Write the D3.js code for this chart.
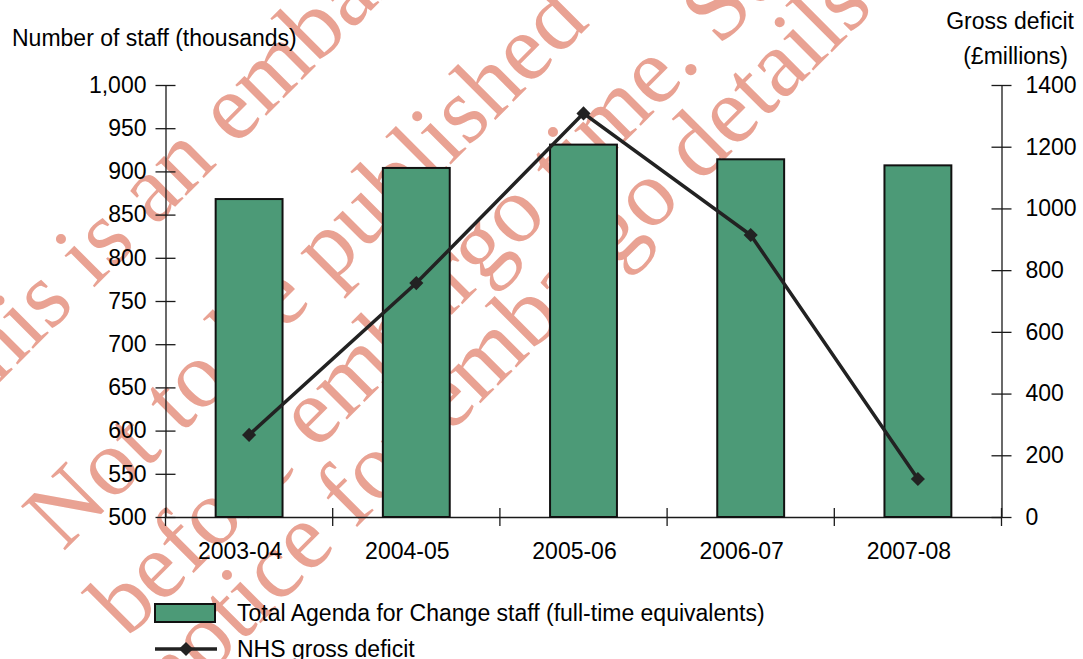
<!DOCTYPE html>
<html>
<head>
<meta charset="utf-8">
<script src="https://cdn.jsdelivr.net/npm/d3@7"></script>
<style>
  body { margin: 0; background: #fff; }
  svg { display: block; font-family: "Liberation Sans", Arial, sans-serif; }
  .axis path, .axis line { stroke: #1a1a1a; stroke-width: 1.3; }
  .axis text { font-size: 23px; fill: #000; font-family: "Liberation Sans", Arial, sans-serif; }
</style>
</head>
<body>
<svg width="1083" height="659"></svg>
<script>
// chart data
var years = ["2003-04", "2004-05", "2005-06", "2006-07", "2007-08"];
var staff = [868, 904, 931, 914, 907];          // thousands, left axis
var deficit = [266, 758, 1308, 914, 123];       // £ millions, right axis
var staffTicks = [500, 550, 600, 650, 700, 750, 800, 850, 900, 950, 1000];
var deficitTicks = [0, 200, 400, 600, 800, 1000, 1200, 1400];
var watermarkLines = ["This is an embargoed report.", "Not to be published", "before embargo time. See", "notice for embargo details"];

var svg = d3.select("svg");
var plotLeft = 165.5, plotRight = 1001.5, plotTop = 85, plotBottom = 517;

// watermark sits behind everything (rotated frame: x along the text, y across it)
var wmStart = [-331, -346, -362, -380];
var wmBaselines = [270, 435, 542, 625];
var wm = svg.append("g")
    .attr("transform", "rotate(-45)")
    .attr("fill", "#e9a293")
    .style("font-family", "'Liberation Serif', 'Times New Roman', serif")
    .style("font-size", "95px");
wm.selectAll("text")
    .data(watermarkLines)
    .enter().append("text")
    .attr("x", function (d, i) { return wmStart[i]; })
    .attr("y", function (d, i) { return wmBaselines[i]; })
    .text(function (d) { return d; });

var x = d3.scaleBand().domain(years).range([plotLeft, plotRight]).paddingInner(0.6).paddingOuter(0.3);
var y = d3.scaleLinear().domain([500, 1000]).range([plotBottom, plotTop]);
var y2 = d3.scaleLinear().domain([0, 1400]).range([plotBottom, plotTop]);

// left axis, ticks crossing the line
var gy = svg.append("g")
    .attr("class", "axis")
    .attr("transform", "translate(" + plotLeft + ",0)")
    .call(d3.axisLeft(y).tickValues(staffTicks).tickFormat(d3.format(",")).tickSize(10).tickPadding(9).tickSizeOuter(0));
gy.selectAll(".tick line").attr("x1", 10);

// right axis
var gy2 = svg.append("g")
    .attr("class", "axis")
    .attr("transform", "translate(" + plotRight + ",0)")
    .call(d3.axisRight(y2).tickValues(deficitTicks).tickFormat(d3.format("d")).tickSize(10).tickPadding(14).tickSizeOuter(0));
gy2.selectAll(".tick line").attr("x1", -10);

// bottom axis: labels under bars, tick marks at the category edges
var gx = svg.append("g")
    .attr("class", "axis")
    .attr("transform", "translate(0," + plotBottom + ")")
    .call(d3.axisBottom(x).tickSize(0).tickPadding(26).tickSizeOuter(0));
gx.selectAll(".tick text").attr("dx", -9);
var edges = d3.range(years.length + 1).map(function (i) { return plotLeft + i * x.step(); });
gx.selectAll(".edge")
    .data(edges)
    .enter().append("line")
    .attr("class", "edge")
    .attr("x1", function (d) { return d; })
    .attr("x2", function (d) { return d; })
    .attr("y1", -9)
    .attr("y2", 9);

// bars
svg.selectAll(".bar")
    .data(years)
    .enter().append("rect")
    .attr("class", "bar")
    .attr("x", function (d) { return x(d); })
    .attr("y", function (d, i) { return y(staff[i]); })
    .attr("width", x.bandwidth())
    .attr("height", function (d, i) { return plotBottom - y(staff[i]); })
    .attr("fill", "#4c9a77")
    .attr("stroke", "#111")
    .attr("stroke-width", 2);

// deficit line
var line = d3.line()
    .x(function (d, i) { return x(years[i]) + x.bandwidth() / 2; })
    .y(function (d) { return y2(d); });

svg.append("path")
    .datum(deficit)
    .attr("d", line)
    .attr("fill", "none")
    .attr("stroke", "#222")
    .attr("stroke-width", 3.5);

var diamond = d3.symbol().type(d3.symbolSquare).size(100);
svg.selectAll(".marker")
    .data(deficit)
    .enter().append("path")
    .attr("class", "marker")
    .attr("d", diamond)
    .attr("fill", "#222")
    .attr("transform", function (d, i) {
        return "translate(" + (x(years[i]) + x.bandwidth() / 2) + "," + y2(d) + ") rotate(45)";
    });

// axis titles
svg.append("text").attr("x", 12).attr("y", 46).style("font-size", "23px").text("Number of staff (thousands)");
svg.append("text").attr("x", 1074).attr("y", 29).attr("text-anchor", "end").style("font-size", "23px").text("Gross deficit");
svg.append("text").attr("x", 1068).attr("y", 64).attr("text-anchor", "end").style("font-size", "23px").text("(£millions)");

// legend
var lg = svg.append("g");
lg.append("rect").attr("x", 155).attr("y", 604).attr("width", 60).attr("height", 18)
    .attr("fill", "#4c9a77").attr("stroke", "#111").attr("stroke-width", 2);
lg.append("text").attr("x", 237).attr("y", 621).style("font-size", "23px")
    .text("Total Agenda for Change staff (full-time equivalents)");
lg.append("line").attr("x1", 155).attr("x2", 217).attr("y1", 649).attr("y2", 649)
    .attr("stroke", "#222").attr("stroke-width", 3.5);
lg.append("path").attr("d", diamond).attr("fill", "#222")
    .attr("transform", "translate(186,649) rotate(45)");
lg.append("text").attr("x", 237).attr("y", 657).style("font-size", "23px").text("NHS gross deficit");
</script>
</body>
</html>
